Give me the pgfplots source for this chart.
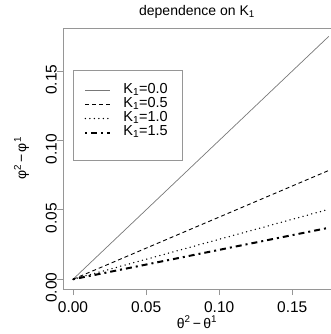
\documentclass[border=0pt]{standalone}
\usepackage{pgfplots}
\pgfplotsset{compat=1.18}
\usepackage{fontspec}
\setmainfont{Liberation Sans}
\definecolor{boxgray}{RGB}{150,150,150}
\definecolor{linegray}{RGB}{120,120,120}
\pgfplotstableread{
x y0 y5 y10 y15
0 0 0 0 0
0.175 0.175 0.0784 0.0504 0.0371
}\data
\begin{document}
\begin{tikzpicture}
\begin{axis}[
 name=ax,
 at={(0pt,0pt)}, anchor=south west,
 scale only axis, width=268pt, height=261pt,
 xmin=-0.00684, xmax=0.1765, ymin=-0.007, ymax=0.181,
 axis x line*=bottom, axis y line*=left,
 axis line style={boxgray, line width=0.8pt, -},
 tick style={boxgray, line width=0.8pt},
 tick align=outside, major tick length=6pt,
 xtick={0,0.05,0.1,0.15}, ytick={0,0.05,0.1,0.15},
 xticklabels={0.00,0.05,0.10,0.15}, yticklabels={0.00,0.05,0.10,0.15},
 ticklabel style={font=\fontsize{15.5}{16}\selectfont, text=black},
 xticklabel style={anchor=north, inner sep=0pt, yshift=-6pt},
 yticklabel style={rotate=90, anchor=south, inner sep=0pt, xshift=-8.5pt},
 xlabel={θ\textsuperscript{2}\,−\,θ\textsuperscript{1}},
 ylabel={φ\textsuperscript{2}\,−\,φ\textsuperscript{1}},
 xlabel style={at={(axis description cs:0.5,-0.127)}, anchor=center, font=\fontsize{14}{14}\selectfont},
 ylabel style={at={(axis description cs:-0.155,0.5)}, anchor=center, rotate=0, font=\fontsize{14}{14}\selectfont},
 title={dependence on K\textsubscript{1}},
 title style={at={(axis description cs:0.5,1.038)}, anchor=center, font=\fontsize{14}{14}\selectfont},
 legend style={draw=none, fill=none, at={(axis description cs:0.079,0.788)}, anchor=north west,
   font=\fontsize{14.5}{14}\selectfont, inner sep=0pt, row sep=0pt,
   nodes={inner sep=0pt, text height=10pt, text depth=4pt}},
 legend image code/.code={\draw[#1] (0pt,0pt) -- (25pt,0pt);},
 legend cell align=left,
 /tikz/every odd column/.append style={column sep=12pt},
 clip=false,
]
\addplot[linegray, line width=0.7pt] table[x=x, y=y0] {\data};
\addlegendentry{K\textsubscript{1}=0.0}
\addplot[black, line width=0.9pt, dash pattern=on 4pt off 3pt] table[x=x, y=y5] {\data};
\addlegendentry{K\textsubscript{1}=0.5}
\addplot[black, line width=1.5pt, line cap=round, dash pattern=on 0pt off 4.5pt] table[x=x, y=y10] {\data};
\addlegendentry{K\textsubscript{1}=1.0}
\addplot[black, line width=2pt, dash pattern=on 2pt off 4pt on 6pt off 4pt] table[x=x, y=y15] {\data};
\addlegendentry{K\textsubscript{1}=1.5}
\end{axis}
\draw[boxgray, line width=0.8pt] (ax.north west) -- (ax.north east);
\draw[boxgray, line width=0.8pt] (10pt,129pt) rectangle (119pt,219pt);
\pgfresetboundingbox
\path (-63pt,-45pt) rectangle (268pt,289pt);
\end{tikzpicture}
\end{document}
